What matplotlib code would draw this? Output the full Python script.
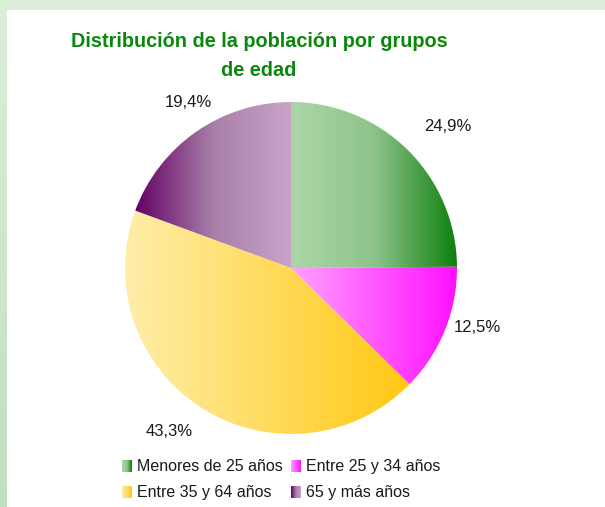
import numpy as np
import matplotlib.pyplot as plt
from matplotlib.colors import to_rgb
from matplotlib.patches import Rectangle

plt.rcParams['font.family'] = ['Liberation Sans', 'DejaVu Sans']

# data
categories = ["Menores de 25 años", "Entre 25 y 34 años",
              "Entre 35 y 64 años", "65 y más años"]
shares = [24.9, 12.5, 43.3, 19.4]
pct_labels = [f"{v:.1f}%".replace(".", ",") for v in shares]

# left -> right colour stops for each slice
gradients = [
    ["#acd6a8", "#8ec48b", "#0e800e"],
    ["#ffa2ff", "#ff10ff"],
    ["#ffeeaa", "#ffc812"],
    ["#640064", "#a77fa7", "#c9a3c9"],
]


def ramp(stops, n=256):
    """horizontal colour ramp as an image row"""
    cols = np.array([to_rgb(c) for c in stops])
    pos = np.linspace(0, 1, len(stops))
    t = np.linspace(0, 1, n)
    row = np.stack([np.interp(t, pos, cols[:, k]) for k in range(3)], axis=-1)
    return row[None, :, :]


W, H = 605, 507
fig = plt.figure(figsize=(W / 100, H / 100), dpi=100)

# background: green frame + white panel, in pixel coords
bg = fig.add_axes([0, 0, 1, 1], zorder=0)
top, bottom = np.array(to_rgb("#dcedda")), np.array(to_rgb("#bfe0bd"))
frame = top + np.linspace(0, 1, H)[:, None, None] * (bottom - top)
frame = np.repeat(frame, 2, axis=1)
bg.imshow(frame, extent=[0, W, H, 0], aspect='auto', zorder=0)
bg.add_patch(Rectangle((7, 10), W - 7, H - 10, fc='white', ec='none', zorder=1))
bg.set_xlim(0, W)
bg.set_ylim(H, 0)
bg.axis('off')

# title
title_kw = dict(ha='center', va='baseline', fontsize=14.3,
                fontweight='bold', color='#0b880b')
bg.text(259, 47, "Distribución de la población por grupos", **title_kw)
bg.text(259, 76, "de edad", **title_kw)

# pie
cx, cy, r = 291, 268, 166
ax = fig.add_axes([(cx - r) / W, 1 - (cy + r) / H, 2 * r / W, 2 * r / H], zorder=1)
ax.patch.set_alpha(0)
wedges, texts = ax.pie(shares, labels=pct_labels, startangle=90, counterclock=False,
                       labeldistance=1.2, radius=1,
                       wedgeprops=dict(fc='none', ec='none'),
                       textprops=dict(fontsize=12, color='#1a1a1a'))

for w, stops in zip(wedges, gradients):
    ext = w.get_path().get_extents()
    img = ax.imshow(ramp(stops), extent=[ext.x0, ext.x1, ext.y0, ext.y1],
                    aspect='auto', interpolation='bilinear', zorder=0)
    img.set_clip_path(w)

# nudge labels to where the original puts them
nudges = [(0.10, 0.0), (0.01, 0.09), (-0.09, 0.03), (0.07, 0.01)]
for t, (dx, dy) in zip(texts, nudges):
    x, y = t.get_position()
    t.set_position((x + dx, y + dy))
    t.set_ha('center')
    t.set_va('center')
    t.set_clip_on(False)

ax.set_aspect('auto')
ax.set_xlim(-1, 1)
ax.set_ylim(-1, 1)
ax.axis('off')

# legend, 2 x 2
col_x = [122, 291]
row_y = [460, 486]
for i, (name, stops) in enumerate(zip(categories, gradients)):
    x0 = col_x[i % 2]
    y0 = row_y[i // 2]
    bg.imshow(ramp(stops, 32), extent=[x0, x0 + 10, y0 + 12, y0],
              aspect='auto', interpolation='bilinear', zorder=3)
    bg.text(x0 + 15, y0 + 11, name, ha='left', va='baseline',
            fontsize=11.5, color='#1a1a1a', zorder=3)
bg.set_xlim(0, W)
bg.set_ylim(H, 0)

fig.savefig("out.png", dpi=100)
